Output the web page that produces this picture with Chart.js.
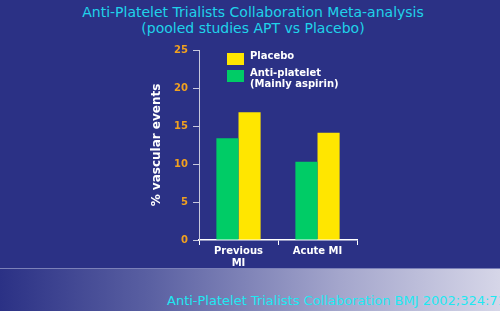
<!DOCTYPE html>
<html>
<head>
<meta charset="utf-8">
<script src="https://cdn.jsdelivr.net/npm/chart.js@4"></script>
<style>
  html, body { margin: 0; padding: 0; }
  body { width: 500px; height: 311px; overflow: hidden; position: relative;
         background: #2b3185; font-family: "DejaVu Sans", Verdana, sans-serif; }
  .band { position: absolute; left: 0; top: 268px; width: 500px; height: 43px;
          background: linear-gradient(to right, #2b3185 0%, #5a60a2 30%, #a4a6cc 68%, #d6d6e8 100%);
          border-top: 1px solid #7b80b8; }
  .title { position: absolute; left: 0; top: 4px; width: 506px; text-align: center;
           color: #1fd3ea; font-size: 14px; line-height: 16px; }
  .foot { position: absolute; left: 167px; top: 293px; white-space: nowrap;
          color: #1ee8f2; font-size: 13px; }
  #wrap { position: absolute; left: 0; top: 0; width: 500px; height: 311px; }
</style>
</head>
<body>
<div class="band"></div>
<div class="title">Anti-Platelet Trialists Collaboration Meta-analysis<br>(pooled studies APT vs Placebo)</div>
<div class="foot">Anti-Platelet Trialists Collaboration BMJ 2002;324:71</div>
<div id="wrap"><canvas id="chart" width="500" height="311"></canvas></div>
<script>
var categories = [['Previous', 'MI'], 'Acute MI'];
var antiPlatelet = [13.4, 10.3];
var placebo = [16.8, 14.1];
var yTicks = [0, 5, 10, 15, 20, 25];
var legendLines = [['Placebo'], ['Anti-platelet', '(Mainly aspirin)']];

// legend drawn by hand: two coloured squares with bold white labels
var boxLegend = {
  id: 'boxLegend',
  afterDraw: function(chart) {
    var ctx = chart.ctx;
    var sets = [chart.data.datasets[1], chart.data.datasets[0]];
    ctx.save();
    ctx.font = 'bold 10px "DejaVu Sans", Verdana, sans-serif';
    ctx.textBaseline = 'middle';
    for (var i = 0; i < sets.length; i++) {
      var y = 53 + i * 17;
      ctx.fillStyle = sets[i].backgroundColor;
      ctx.fillRect(227, y, 17, 12);
      ctx.fillStyle = '#ffffff';
      for (var j = 0; j < legendLines[i].length; j++) {
        ctx.fillText(legendLines[i][j], 250, y + 3 + j * 11);
      }
    }
    ctx.restore();
  }
};

new Chart(document.getElementById('chart').getContext('2d'), {
  type: 'bar',
  data: {
    labels: categories,
    datasets: [
      { label: 'Anti-platelet (Mainly aspirin)', data: antiPlatelet,
        backgroundColor: '#00cc66', borderWidth: 0 },
      { label: 'Placebo', data: placebo,
        backgroundColor: '#ffe600', borderWidth: 0 }
    ]
  },
  options: {
    responsive: false,
    animation: false,
    layout: { padding: { left: 0, right: 143, top: 50, bottom: 0 } },
    plugins: { legend: { display: false }, tooltip: { enabled: false } },
    datasets: { bar: { categoryPercentage: 0.56, barPercentage: 1 } },
    scales: {
      x: {
        afterFit: function(s) { s.height = 71; },
        grid: { drawOnChartArea: false, color: '#ffffff', tickLength: 5, lineWidth: 1 },
        border: { color: '#ffffff', width: 1.5 },
        ticks: { color: '#ffffff', font: { family: '"DejaVu Sans", Verdana, sans-serif', size: 10, weight: 'bold' },
                 padding: 0, maxRotation: 0 }
      },
      y: {
        min: 0, max: 25,
        afterFit: function(s) { s.width = 199; },
        afterBuildTicks: function(s) { s.ticks = yTicks.map(function(v) { return { value: v }; }); },
        grid: { drawOnChartArea: false, color: '#c8c8dc', tickLength: 6 },
        border: { color: '#c8c8dc', width: 1 },
        ticks: { color: '#f0a020', font: { family: '"DejaVu Sans", Verdana, sans-serif', size: 10, weight: 'bold' },
                 padding: 5 },
        title: { display: true, text: '% vascular events', color: '#ffffff',
                 font: { family: '"DejaVu Sans", Verdana, sans-serif', size: 12, weight: 'bold' },
                 padding: { top: 150, bottom: 0 } }
      }
    }
  },
  plugins: [boxLegend]
});
</script>
</body>
</html>
